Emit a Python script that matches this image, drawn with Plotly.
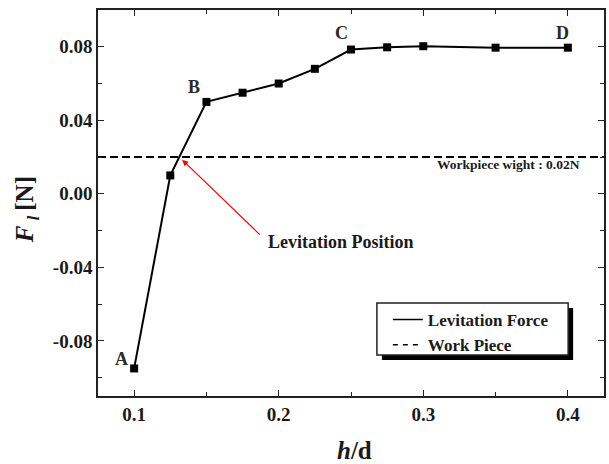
import plotly.graph_objects as go

# Levitation force versus normalised gap h/d
h_ratio = [0.1, 0.125, 0.15, 0.175, 0.2, 0.225, 0.25, 0.275, 0.3, 0.35, 0.4]
lev_force = [-0.095, 0.010, 0.050, 0.055, 0.060, 0.068, 0.0785, 0.0797, 0.0803, 0.0795, 0.0795]

# Workpiece weight (constant reference level)
workpiece_weight = 0.02

# Axis ranges and ticks
x_range = [0.075, 0.425]
y_range = [-0.11, 0.10]
x_ticks = [0.1, 0.2, 0.3, 0.4]
x_ticktext = ["0.1", "0.2", "0.3", "0.4"]
y_ticks = [-0.08, -0.04, 0.0, 0.04, 0.08]
y_ticktext = ["-0.08", "-0.04", "0.00", "0.04", "0.08"]

# Point labels
point_labels = ["A", "B", "C", "D"]
label_x = [0.0912, 0.1416, 0.2434, 0.3963]
label_y = [-0.0897, 0.058, 0.0873, 0.0873]

FONT = "Liberation Serif"
INK = "#1a1a1a"

# Plot-area geometry in pixels (used to place paper-referenced items)
W, H = 609, 464
ML, MR, MT, MB = 98, 3, 10, 68
PW, PH = W - ML - MR, H - MT - MB


def px_x(px):
    return (px - ML) / PW


def px_y(py):
    return (H - MB - py) / PH


fig = go.Figure()

# Force curve (markers on the plot, plain line in the legend)
fig.add_trace(go.Scatter(
    x=h_ratio, y=lev_force, mode="lines+markers", showlegend=False,
    line=dict(color="black", width=2),
    marker=dict(symbol="square", size=8, color="black"),
))

fig.add_trace(go.Scatter(
    x=x_range, y=[workpiece_weight, workpiece_weight], mode="lines",
    showlegend=False,
    line=dict(color="black", width=2, dash="8px,4px"),
))

# Legend entries
fig.add_trace(go.Scatter(
    x=[None], y=[None], mode="lines", name="<b>Levitation Force</b>",
    line=dict(color="black", width=1.5),
))
fig.add_trace(go.Scatter(
    x=[None], y=[None], mode="lines", name="<b>Work Piece</b>",
    line=dict(color="black", width=1.5, dash="5px,5px"),
))

# Crossing point of the force curve with the workpiece weight
x_cross = None
for i in range(len(h_ratio) - 1):
    y0, y1 = lev_force[i], lev_force[i + 1]
    if (y0 - workpiece_weight) * (y1 - workpiece_weight) <= 0:
        x0, x1 = h_ratio[i], h_ratio[i + 1]
        x_cross = x0 + (workpiece_weight - y0) * (x1 - x0) / (y1 - y0)
        break

annotations = []
for t, lx, ly in zip(point_labels, label_x, label_y):
    annotations.append(dict(x=lx, y=ly, text=f"<b>{t}</b>", showarrow=False,
                            font=dict(family=FONT, size=18, color="#2a2a2a")))

annotations.append(dict(
    x=x_cross, y=workpiece_weight, ax=82, ay=79, axref="pixel", ayref="pixel",
    text="", showarrow=True, arrowhead=2, arrowsize=1, arrowwidth=1.2,
    arrowcolor="red", standoff=4,
))
annotations.append(dict(
    x=0.191, y=-0.026, text="<b>Levitation Position</b>", showarrow=False,
    xanchor="left", font=dict(family=FONT, size=18, color=INK),
))
annotations.append(dict(
    x=0.4095, y=0.016, text="<b>Workpiece wight : 0.02N</b>", showarrow=False,
    xanchor="right", font=dict(family=FONT, size=13.5, color=INK),
))

# Axis titles
annotations.append(dict(
    x=px_x(26), y=px_y(210), xref="paper", yref="paper", textangle=-90,
    xanchor="center", yanchor="middle",
    text="<b><i>F</i>&#8201;<sub><i>l</i></sub>&#8201;[N]</b>", showarrow=False,
    font=dict(family=FONT, size=25, color=INK),
))
annotations.append(dict(
    x=px_x(356), y=px_y(450), xref="paper", yref="paper",
    xanchor="center", yanchor="middle",
    text="<b><i>h</i>/d</b>", showarrow=False,
    font=dict(family=FONT, size=25, color=INK),
))

axis_common = dict(
    showgrid=False, zeroline=False, showline=True, linecolor="#222",
    linewidth=1.5, mirror="ticks", ticks="inside", ticklen=6, tickwidth=1.2,
    tickcolor="#222",
    tickfont=dict(family=FONT, size=19, color=INK),
)

# Legend box (drawn as shapes so the frame and drop shadow line up)
box_l, box_r, box_t, box_b = 378, 570, 303, 355
shadow = 5

fig.update_layout(
    width=W, height=H,
    margin=dict(l=ML, r=MR, t=MT, b=MB),
    paper_bgcolor="white", plot_bgcolor="white",
    xaxis=dict(range=x_range, tickvals=x_ticks,
               ticktext=[f"<b>{t}</b>" for t in x_ticktext],
               minor=dict(tickvals=[0.15, 0.25, 0.35], ticks="inside",
                          ticklen=4, tickwidth=1.2, tickcolor="#222"),
               **axis_common),
    yaxis=dict(range=y_range, tickvals=y_ticks,
               ticktext=[f"<b>{t}</b>" for t in y_ticktext],
               minor=dict(tickvals=[-0.10, -0.06, -0.02, 0.02, 0.06],
                          ticks="inside", ticklen=4, tickwidth=1.2,
                          tickcolor="#222"),
               **axis_common),
    showlegend=True,
    legend=dict(x=px_x(box_l + 11), y=px_y(box_t - 1), xanchor="left",
                yanchor="top", bgcolor="rgba(0,0,0,0)", borderwidth=0,
                font=dict(family=FONT, size=17, color=INK),
                tracegroupgap=0, itemwidth=30),
    annotations=annotations,
)

fig.add_shape(type="rect", xref="paper", yref="paper",
              x0=px_x(box_l + shadow), x1=px_x(box_r + shadow),
              y0=px_y(box_b + shadow), y1=px_y(box_t + shadow),
              fillcolor="black", line=dict(width=0), layer="above")
fig.add_shape(type="rect", xref="paper", yref="paper",
              x0=px_x(box_l), x1=px_x(box_r),
              y0=px_y(box_b), y1=px_y(box_t),
              fillcolor="white", line=dict(color="#222", width=1.5),
              layer="above")

fig.write_html("out.html")
